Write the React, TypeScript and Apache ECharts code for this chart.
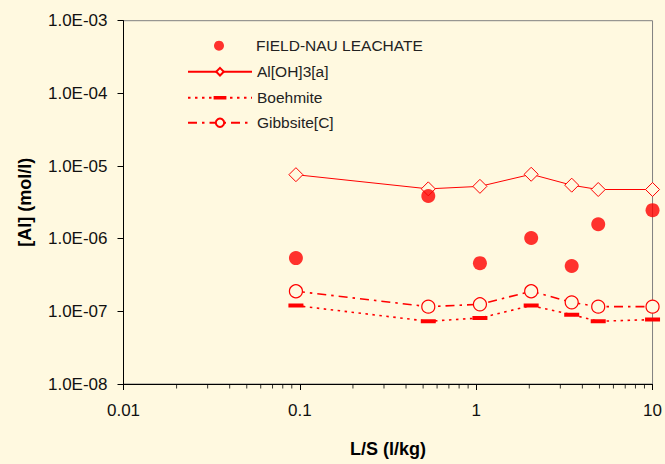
import React, { useEffect, useRef } from "react";
import * as echarts from "echarts";

const lsValues = [0.095, 0.535, 1.05, 2.05, 3.48, 4.92, 10];
const fieldLeachate = [5.4e-7, 3.86e-6, 4.6e-7, 1.02e-6, 4.2e-7, 1.58e-6, 2.47e-6];
const alOH3a = [7.6e-6, 4.85e-6, 5.25e-6, 7.7e-6, 5.45e-6, 4.75e-6, 4.75e-6];
const boehmite = [1.2e-7, 7.3e-8, 8.1e-8, 1.2e-7, 9.0e-8, 7.3e-8, 7.7e-8];
const gibbsite = [1.89e-7, 1.16e-7, 1.25e-7, 1.89e-7, 1.33e-7, 1.16e-7, 1.16e-7];
const minorTicksX = [
  0.02, 0.03, 0.04, 0.05, 0.06, 0.07, 0.08, 0.09,
  0.2, 0.3, 0.4, 0.5, 0.6, 0.7, 0.8, 0.9,
  2, 3, 4, 5, 6, 7, 8, 9,
];
const seriesNames = ["FIELD-NAU LEACHATE", "Al[OH]3[a]", "Boehmite", "Gibbsite[C]"];

const BG = "#FFF9E0";
const RED = "#FF0000";
const FONT = "Liberation Sans, Arial, sans-serif";
// flat dash symbol with invisible vertical extent so it keeps its shape when squared
const DASH_SYMBOL = "path://M0,5.5L15,5.5L15,9.5L0,9.5Z M0,0L15,0L0,0Z M0,15L15,15L0,15Z";

const pairs = (ys: number[]) => lsValues.map((x, i) => [x, ys[i]]);

const legendText = { fontFamily: FONT, fontSize: 15.5, color: "#222", lineHeight: 16 };

const legendRow = (name: string, left: number, top: number, itemHeight: number) => ({
  orient: "vertical",
  left,
  top,
  padding: 0,
  itemWidth: 64,
  itemHeight,
  data: [{ name, textStyle: legendText }],
  selectedMode: false,
  textStyle: legendText,
});

export default function App() {
  const ref = useRef<HTMLDivElement>(null);
  useEffect(() => {
    if (!ref.current) return;
    const chart = echarts.init(ref.current, null, { renderer: "svg" });
    chart.setOption({
      animation: false,
      backgroundColor: BG,
      textStyle: { fontFamily: FONT },
      grid: {
        left: 123.5,
        right: 10.5,
        top: 20.7,
        bottom: 80,
        show: true,
        borderColor: "#808080",
        borderWidth: 1,
        backgroundColor: BG,
      },
      legend: [
        legendRow(seriesNames[0], 214, 37.7, 10),
        legendRow(seriesNames[1], 187, 63.7, 9.5),
        legendRow(seriesNames[2], 187, 89.7, 16),
        legendRow(seriesNames[3], 187, 114.7, 10.5),
      ],
      xAxis: {
        type: "log",
        logBase: 10,
        min: 0.01,
        max: 10,
        name: "L/S (l/kg)",
        nameLocation: "middle",
        nameGap: 56,
        nameTextStyle: { fontFamily: FONT, fontSize: 18, fontWeight: "bold", color: "#000" },
        axisLine: { lineStyle: { color: "#000", width: 1 } },
        axisTick: { inside: false, length: 6, lineStyle: { color: "#000" } },
        axisLabel: {
          margin: 18,
          fontFamily: FONT,
          fontSize: 17,
          color: "#111",
          formatter: (v: number) => String(Number(v.toPrecision(3))),
        },
        splitLine: { show: false },
      },
      yAxis: {
        type: "log",
        logBase: 10,
        min: 1e-8,
        max: 1e-3,
        name: "[Al] (mol/l)",
        nameLocation: "middle",
        nameGap: 90,
        nameTextStyle: { fontFamily: FONT, fontSize: 18, fontWeight: "bold", color: "#000" },
        axisLine: { lineStyle: { color: "#000", width: 1 } },
        axisTick: { inside: false, length: 6, lineStyle: { color: "#000" } },
        axisLabel: {
          margin: 16,
          fontFamily: FONT,
          fontSize: 17,
          color: "#111",
          formatter: (v: number) => {
            const e = Math.round(Math.log10(v));
            const s = Math.abs(e) < 10 ? "0" + Math.abs(e) : String(Math.abs(e));
            return "1.0E" + (e < 0 ? "-" : "+") + s;
          },
        },
        splitLine: { show: false },
      },
      series: [
        {
          name: "minorTicks",
          type: "scatter",
          silent: true,
          clip: false,
          data: minorTicksX.map((x) => [x, 1e-8]),
          symbol: "rect",
          symbolSize: [1, 4],
          symbolOffset: [0, 2.5],
          itemStyle: { color: "#000" },
          z: 1,
        },
        {
          name: seriesNames[0],
          type: "scatter",
          data: pairs(fieldLeachate),
          symbol: "circle",
          symbolSize: 14,
          itemStyle: { color: RED },
          z: 5,
        },
        {
          name: seriesNames[1],
          type: "line",
          data: pairs(alOH3a),
          symbol: "diamond",
          symbolSize: [14, 14],
          showAllSymbol: true,
          lineStyle: { color: RED, width: 1, type: "solid" },
          itemStyle: { color: BG, borderColor: RED, borderWidth: 1 },
          z: 4,
        },
        {
          name: seriesNames[2],
          type: "line",
          data: pairs(boehmite),
          symbol: DASH_SYMBOL,
          symbolSize: [15, 15],
          showAllSymbol: true,
          lineStyle: { color: RED, width: 1.6, type: [2.5, 4.5] },
          itemStyle: { color: RED, borderWidth: 0 },
          z: 3,
        },
        {
          name: seriesNames[3],
          type: "line",
          data: pairs(gibbsite),
          symbol: "circle",
          symbolSize: 13,
          showAllSymbol: true,
          lineStyle: { color: RED, width: 1.6, type: [9, 5, 2.5, 5] },
          itemStyle: { color: BG, borderColor: RED, borderWidth: 1.2 },
          z: 3,
        },
      ],
    });
    return () => chart.dispose();
  }, []);
  return <div ref={ref} style={{ width: 665, height: 464, position: "absolute", left: 0, top: 0 }} />;
}
